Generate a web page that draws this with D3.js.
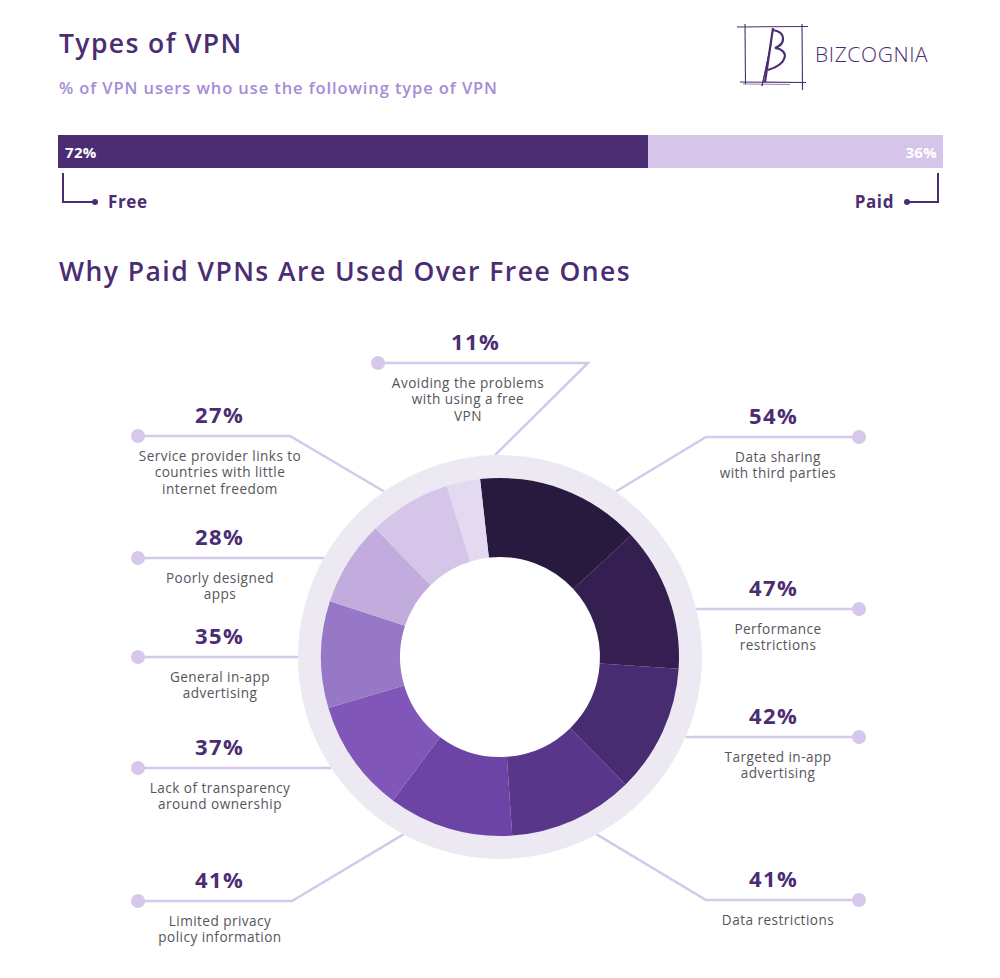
<!DOCTYPE html>
<html>
<head>
<meta charset="utf-8">
<script src="https://cdn.jsdelivr.net/npm/d3@7"></script>
<style>
  html, body { margin: 0; padding: 0; background: #ffffff; }
  svg { display: block; }
  text { font-family: "Open Sans", "Noto Sans", sans-serif; }
</style>
</head>
<body>
<svg id="chart" width="1000" height="978"></svg>
<script>
// ---------------- DATA ----------------
const typeNames = ["Free", "Paid"];
const typeValues = [72, 36];

const categories = [
  "Data sharing with third parties",
  "Performance restrictions",
  "Targeted in-app advertising",
  "Data restrictions",
  "Limited privacy policy information",
  "Lack of transparency around ownership",
  "General in-app advertising",
  "Poorly designed apps",
  "Service provider links to countries with little internet freedom",
  "Avoiding the problems with using a free VPN"
];
const values = [54, 47, 42, 41, 41, 37, 35, 28, 27, 11];
const labelLines = [
  ["Data sharing", "with third parties"],
  ["Performance", "restrictions"],
  ["Targeted in-app", "advertising"],
  ["Data restrictions"],
  ["Limited privacy", "policy information"],
  ["Lack of transparency", "around ownership"],
  ["General in-app", "advertising"],
  ["Poorly designed", "apps"],
  ["Service provider links to", "countries with little", "internet freedom"],
  ["Avoiding the problems", "with using a free", "VPN"]
];

// ---------------- STYLE / LAYOUT ----------------
const sliceColors = ["#271a3e", "#341f50", "#482c72", "#58378b", "#6c44a6",
                     "#8056b8", "#9778c6", "#c1acdd", "#d5c6e9", "#e3d9f1"];
const dark = "#4a2d73";
const lineCol = "#d5c8ea";
const descCol = "#57555c";

// label leader layout: side, horizontal line y, bend x (null = straight), ring angle (deg)
const labelLayout = [
  {side: "R", y: 437, bend: 706, ang: 35},
  {side: "R", y: 609, bend: null},
  {side: "R", y: 737, bend: null},
  {side: "R", y: 900, bend: 706, ang: 151.4},
  {side: "L", y: 901, bend: 292, ang: 208.6},
  {side: "L", y: 768, bend: null},
  {side: "L", y: 657, bend: null},
  {side: "L", y: 558, bend: null},
  {side: "L", y: 436, bend: 290, ang: -35},
  {side: "T", y: 363, bend: 588, ang: -1.4}
];

const svg = d3.select("#chart");

// ---------------- HEADER ----------------
svg.append("text").attr("x", 59).attr("y", 53)
  .attr("fill", dark).attr("font-size", 26.5).attr("font-weight", 600)
  .attr("letter-spacing", 1.4)
  .text("Types of VPN");
svg.append("text").attr("x", 59).attr("y", 94)
  .attr("fill", "#a68bd6").attr("font-size", 16.5).attr("font-weight", 600)
  .attr("letter-spacing", 0.9)
  .text("% of VPN users who use the following type of VPN");

// logo
const logo = svg.append("g").attr("stroke", "#4a2d73").attr("fill", "none").attr("stroke-width", 1.1);
logo.append("line").attr("x1", 745).attr("y1", 24).attr("x2", 745.5).attr("y2", 84);
logo.append("line").attr("x1", 737).attr("y1", 27).attr("x2", 808).attr("y2", 26.5);
logo.append("line").attr("x1", 802).attr("y1", 24).attr("x2", 802.5).attr("y2", 90);
logo.append("line").attr("x1", 740).attr("y1", 82).attr("x2", 806).attr("y2", 82.5);
logo.append("line").attr("x1", 743).attr("y1", 84).attr("x2", 790).attr("y2", 84.5).attr("stroke-width", 0.6);
// stylised B
logo.append("path")
  .attr("d", "M773,28 L765,82 M773,30 C786,32 786,44 775,48 C790,50 788,64 768,70")
  .attr("stroke-width", 2.2);
logo.append("path")
  .attr("d", "M771,44 L762,86 L768,58 Z")
  .attr("fill", "#4a2d73").attr("stroke-width", 1);
svg.append("text").attr("x", 815).attr("y", 62)
  .attr("fill", dark).attr("font-size", 21).attr("font-weight", 300)
  .attr("letter-spacing", 0.6)
  .text("BIZCOGNIA");

// ---------------- TOP STACKED BAR ----------------
const total = d3.sum(typeValues);
const xBar = d3.scaleLinear().domain([0, total]).range([58, 943]);
const stacks = [];
let acc = 0;
typeValues.forEach((v, i) => { stacks.push({name: typeNames[i], v, x0: acc, x1: acc + v}); acc += v; });
const barColors = [dark, "#d5c6e9"];
svg.selectAll("rect.bar").data(stacks).join("rect").attr("class", "bar")
  .attr("x", d => xBar(d.x0)).attr("width", d => xBar(d.x1) - xBar(d.x0))
  .attr("y", 135).attr("height", 33)
  .attr("fill", (d, i) => barColors[i]);
svg.selectAll("text.barval").data(stacks).join("text").attr("class", "barval")
  .attr("x", (d, i) => i === 0 ? xBar(d.x0) + 7 : xBar(d.x1) - 6)
  .attr("text-anchor", (d, i) => i === 0 ? "start" : "end")
  .attr("y", 157.5).attr("fill", "#ffffff").attr("font-size", 15).attr("font-weight", 700)
  .attr("letter-spacing", 0.3)
  .text(d => d.v + "%");

// brackets
const brk = svg.append("g").attr("stroke", dark).attr("stroke-width", 2).attr("fill", "none");
const lx = xBar(0) + 5, rx = xBar(total) - 5;
brk.append("path").attr("d", `M${lx},173 V202 H95`);
brk.append("path").attr("d", `M${rx},173 V202 H907`);
svg.append("circle").attr("cx", 95).attr("cy", 202).attr("r", 3).attr("fill", dark);
svg.append("circle").attr("cx", 907).attr("cy", 202).attr("r", 3).attr("fill", dark);
svg.append("text").attr("x", 108).attr("y", 208).attr("fill", dark)
  .attr("font-size", 17).attr("font-weight", 700).attr("letter-spacing", 0.6).text(typeNames[0]);
svg.append("text").attr("x", 894).attr("y", 208).attr("text-anchor", "end").attr("fill", dark)
  .attr("font-size", 17).attr("font-weight", 700).attr("letter-spacing", 0.6).text(typeNames[1]);

// ---------------- SECOND TITLE ----------------
svg.append("text").attr("x", 59).attr("y", 281)
  .attr("fill", dark).attr("font-size", 26.5).attr("font-weight", 600)
  .attr("letter-spacing", 1.45)
  .text("Why Paid VPNs Are Used Over Free Ones");

// ---------------- DONUT ----------------
const cx = 500, cy = 657;
const ringR = 202, outerR = 179, innerR = 100;
const leftDot = 138, rightDot = 859;
const deg = Math.PI / 180;

const gLines = svg.append("g");
labelLayout.forEach((L, i) => {
  let pts;
  if (L.bend === null) {
    const dy = L.y - cy;
    const dx = Math.sqrt(ringR * ringR - dy * dy);
    const ex = L.side === "L" ? cx - dx : cx + dx;
    const sx = L.side === "L" ? leftDot : rightDot;
    pts = [[sx, L.y], [ex, L.y]];
  } else {
    const ex = cx + ringR * Math.sin(L.ang * deg);
    const ey = cy - ringR * Math.cos(L.ang * deg);
    const sx = L.side === "L" ? leftDot : (L.side === "R" ? rightDot : 378);
    pts = [[sx, L.y], [L.bend, L.y], [ex, ey]];
  }
  gLines.append("path").attr("d", d3.line()(pts))
    .attr("fill", "none").attr("stroke", lineCol).attr("stroke-width", 2.5);
  gLines.append("circle").attr("cx", pts[0][0]).attr("cy", pts[0][1]).attr("r", 7).attr("fill", lineCol);

  const pctX = L.side === "L" ? 219 : (L.side === "R" ? 773 : 475);
  const descX = L.side === "L" ? 220 : (L.side === "R" ? 778 : 468);
  svg.append("text").attr("x", pctX + 0.7).attr("y", L.y - 13.5).attr("text-anchor", "middle")
    .attr("fill", dark).attr("font-size", 22).attr("font-weight", 700)
    .attr("letter-spacing", 1.4)
    .text(values[i] + "%");
  const t = svg.append("text").attr("text-anchor", "middle").attr("fill", descCol)
    .attr("font-size", 13.6).attr("font-weight", 400).attr("letter-spacing", 0.45);
  labelLines[i].forEach((ln, j) => {
    t.append("tspan").attr("x", descX).attr("y", L.y + 24.5 + j * 16.8).text(ln);
  });
});

// ring with white hole
svg.append("circle").attr("cx", cx).attr("cy", cy).attr("r", ringR).attr("fill", "#ece9f2");
svg.append("circle").attr("cx", cx).attr("cy", cy).attr("r", innerR).attr("fill", "#ffffff");

const a0 = -6.4 * deg;
const pie = d3.pie().value(d => d).sort(null).startAngle(a0).endAngle(a0 + 2 * Math.PI);
const arc = d3.arc().innerRadius(innerR).outerRadius(outerR);
svg.append("g").attr("transform", `translate(${cx},${cy})`)
  .selectAll("path").data(pie(values)).join("path")
  .attr("d", arc).attr("fill", (d, i) => sliceColors[i]);
</script>
</body>
</html>
